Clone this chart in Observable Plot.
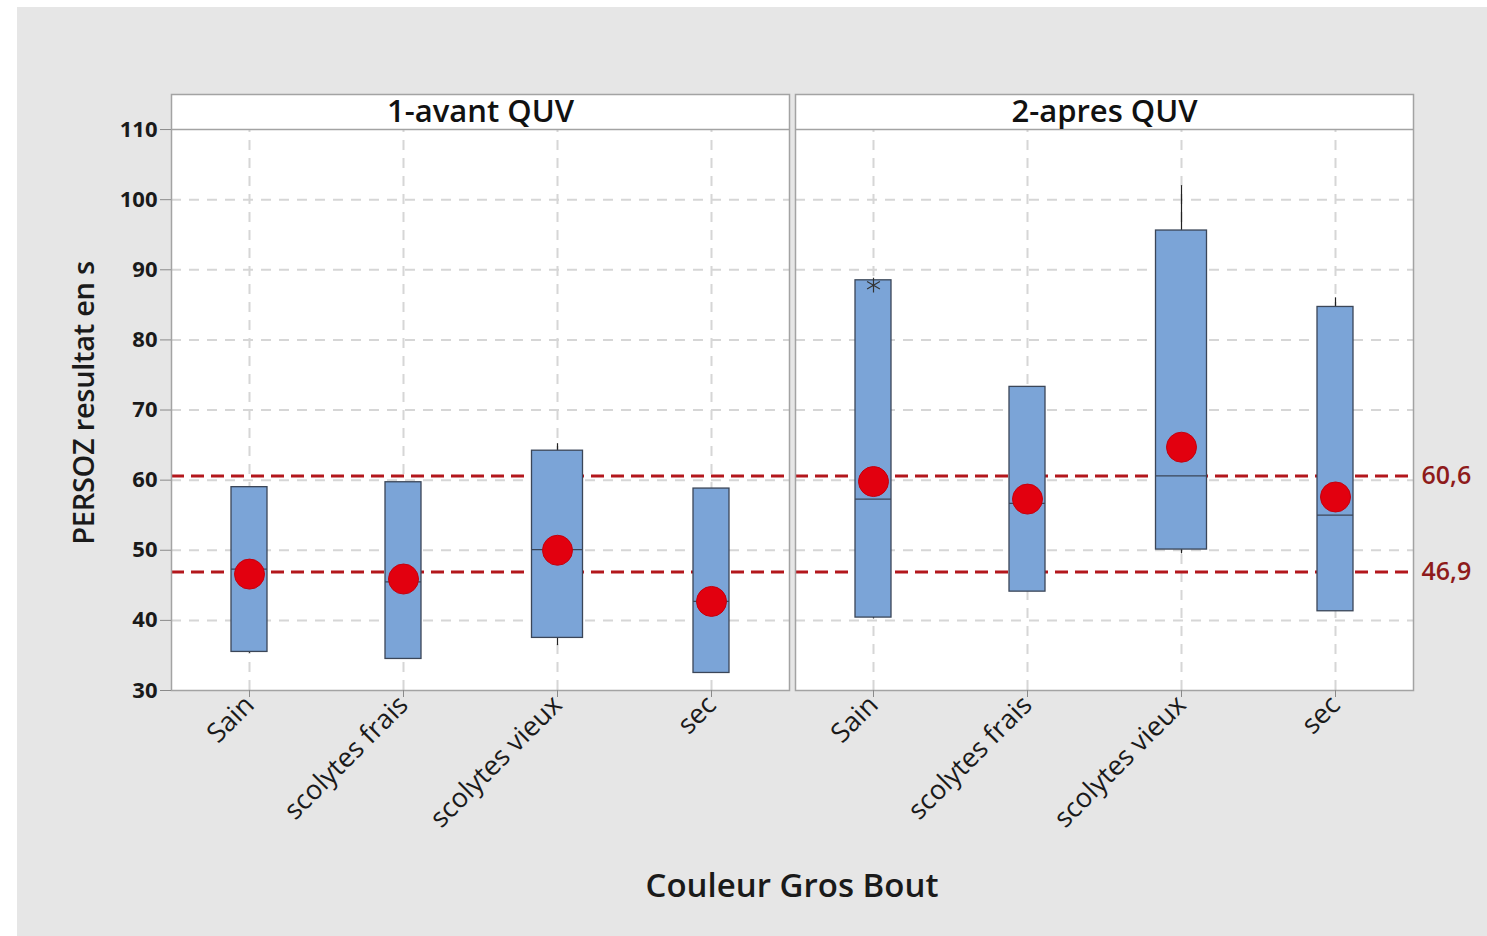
<!DOCTYPE html>
<html>
<head>
<meta charset="utf-8">
<script src="https://cdn.jsdelivr.net/npm/d3@7"></script>
<script src="https://cdn.jsdelivr.net/npm/@observablehq/plot@0.6"></script>
<style>
  html, body { margin: 0; padding: 0; background: #ffffff; width: 1487px; height: 936px; overflow: hidden; }
  #bg { position: absolute; left: 17px; top: 7px; right: 0; bottom: 0; background: #e6e6e6; }
  #chart { position: absolute; left: 0; top: 0; }
  .title { position: absolute; font-family: "Open Sans", sans-serif; color: #1a1a1a; white-space: nowrap; }
  #xlabel { left: 792px; top: 884px; transform: translate(-50%, -50%); font-size: 33px; font-weight: 600; }
  #ylabel { left: 82px; top: 403px; transform: translate(-50%, -50%) rotate(-90deg); font-size: 29px; font-weight: 600; letter-spacing: -0.3px; }
</style>
</head>
<body>
<div id="bg"></div>
<div id="chart"></div>
<div class="title" id="xlabel">Couleur Gros Bout</div>
<div class="title" id="ylabel">PERSOZ resultat en s</div>
<script>
// ---- data ----
const panels = ["1-avant QUV", "2-apres QUV"];
const categories = ["Sain", "scolytes frais", "scolytes vieux", "sec"];
// per panel (row) and category (column)
const whiskerLow  = [[35.3, 34.5, 36.4, 32.5], [40.2, 44.1, 49.5, 41.3]];
const q1          = [[35.5, 34.5, 37.5, 32.5], [40.4, 44.1, 50.1, 41.3]];
const median      = [[47.3, 45.5, 50.1, 42.7], [57.3, 56.7, 60.6, 55.0]];
const q3          = [[59.0, 59.7, 64.2, 58.8], [88.5, 73.3, 95.6, 84.7]];
const whiskerHigh = [[59.0, 59.7, 65.2, 58.8], [88.5, 73.3, 102.0, 86.0]];
const means       = [[46.6, 45.9, 50.0, 42.7], [59.8, 57.3, 64.7, 57.6]];
const outlierPanel = ["2-apres QUV"];
const outlierCat   = ["Sain"];
const outlierValue = [87.8];
const refValues = [60.6, 46.9];
const refLabels = ["60,6", "46,9"];
const yTicks = [30, 40, 50, 60, 70, 80, 90, 100, 110];
const gridValues = [40, 50, 60, 70, 80, 90, 100];

const rows = panels.flatMap((p, i) => categories.map((c, j) => ({
  panel: p, cat: c,
  lo: whiskerLow[i][j], q1: q1[i][j], med: median[i][j],
  q3: q3[i][j], hi: whiskerHigh[i][j], mean: means[i][j]
})));
const outliers = outlierValue.map((v, i) => ({panel: outlierPanel[i], cat: outlierCat[i], value: v}));
const refs = refValues.map((v, i) => ({panel: panels[1], value: v, label: refLabels[i]}));

// ---- styles ----
const font = "Open Sans, sans-serif";
const gridColor = "#d6d6d6";
const borderColor = "#a3a3a3";
const boxFill = "#7ba4d7";
const boxStroke = "#3b4658";
const refColor = "#b3171c";
const insetNarrow = 59;
const insetWide = 51.5;
const isWide = d => d.cat === "scolytes vieux";
const narrowRows = rows.filter(d => !isWide(d));
const wideRows = rows.filter(isWide);

const chart = Plot.plot({
  width: 1487,
  height: 936,
  marginLeft: 171,
  marginRight: 74,
  marginTop: 94,
  marginBottom: 246,
  style: {background: "transparent", fontFamily: font, color: "#1a1a1a"},
  fx: {domain: panels, paddingInner: 6 / 624, paddingOuter: 0, axis: null},
  x: {domain: categories, padding: 0, axis: null},
  y: {domain: [30, 115], axis: null},
  marks: [
    Plot.frame({fill: "white", stroke: "none"}),
    Plot.ruleY(gridValues, {stroke: gridColor, strokeWidth: 2, strokeDasharray: "10,8"}),
    Plot.ruleX(categories, {x: d => d, y1: 30, y2: 110, stroke: gridColor, strokeWidth: 2, strokeDasharray: "10,8"}),
    Plot.ruleY(refValues, {stroke: refColor, strokeWidth: 3, strokeDasharray: "13,7"}),
    // whiskers
    Plot.ruleX(rows, {fx: "panel", x: "cat", y1: "lo", y2: "q1", stroke: "#222", strokeWidth: 1.2}),
    Plot.ruleX(rows, {fx: "panel", x: "cat", y1: "q3", y2: "hi", stroke: "#222", strokeWidth: 1.2}),
    // boxes
    Plot.barY(narrowRows, {fx: "panel", x: "cat", y1: "q1", y2: "q3", fill: boxFill, stroke: boxStroke, strokeWidth: 1.3, insetLeft: insetNarrow, insetRight: insetNarrow}),
    Plot.barY(wideRows, {fx: "panel", x: "cat", y1: "q1", y2: "q3", fill: boxFill, stroke: boxStroke, strokeWidth: 1.3, insetLeft: insetWide, insetRight: insetWide}),
    Plot.tickY(narrowRows, {fx: "panel", x: "cat", y: "med", stroke: boxStroke, strokeWidth: 1.3, insetLeft: insetNarrow, insetRight: insetNarrow}),
    Plot.tickY(wideRows, {fx: "panel", x: "cat", y: "med", stroke: boxStroke, strokeWidth: 1.3, insetLeft: insetWide, insetRight: insetWide}),
    // outliers
    Plot.dot(outliers, {fx: "panel", x: "cat", y: "value", symbol: "asterisk", r: 7, stroke: "#333", strokeWidth: 1.2}),
    // means
    Plot.dot(rows, {fx: "panel", x: "cat", y: "mean", r: 15, fill: "#e2000f", stroke: "#c4000d", strokeWidth: 1}),
    // strip header
    Plot.ruleY([110], {stroke: borderColor, strokeWidth: 1.5}),
    Plot.text(panels, {fx: d => d, y: () => 112.5, text: d => d, fontSize: 31, fontWeight: 600, fontFamily: font, fill: "#111"}),
    Plot.frame({stroke: borderColor, strokeWidth: 1.5}),
    // reference labels
    Plot.text(refs, {fx: "panel", y: "value", text: "label", frameAnchor: "right", dx: 8, textAnchor: "start", fontSize: 25, fontWeight: 600, fontFamily: font, fill: "#8e1b1b"}),
    // axes
    Plot.axisY({ticks: yTicks, tickSize: 11, tickPadding: 3, stroke: "#8a8a8a", fill: "#1a1a1a", fontSize: 22, fontWeight: 700, fontFamily: font, label: null}),
    Plot.axisX({tickRotate: -45, tickSize: 7, tickPadding: 3, stroke: "#8a8a8a", fill: "#1a1a1a", fontSize: 27, fontFamily: font, label: null})
  ]
});
document.getElementById("chart").append(chart);
</script>
</body>
</html>
